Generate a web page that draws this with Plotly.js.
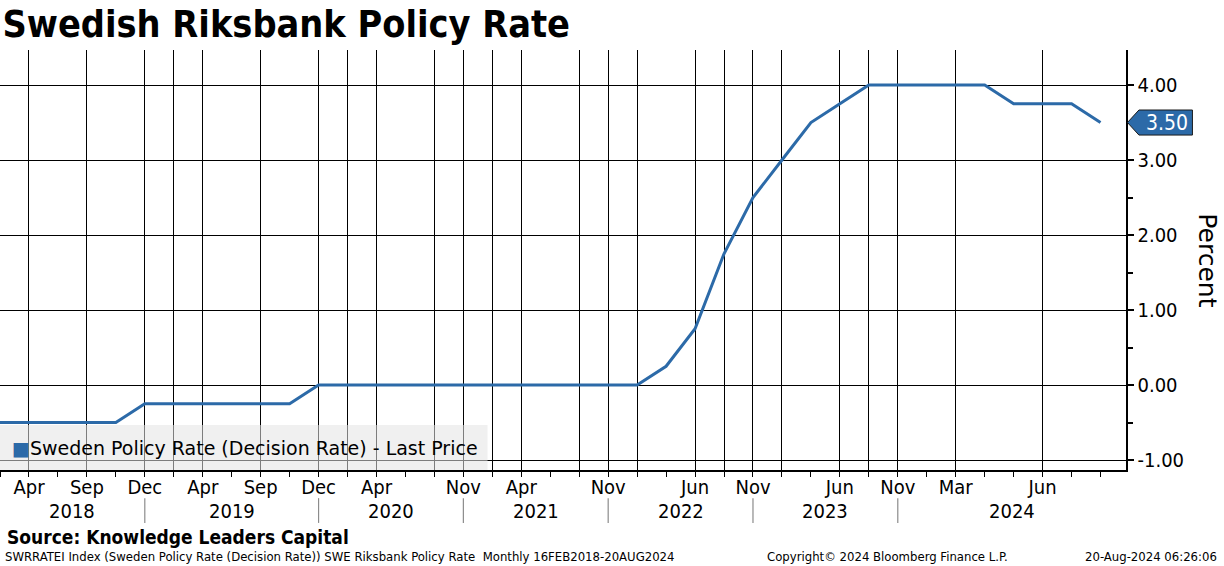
<!DOCTYPE html>
<html>
<head>
<meta charset="utf-8">
<script src="https://cdn.plot.ly/plotly-3.0.1.min.js"></script>
<style>html,body{margin:0;padding:0;background:#fff;}#chart{width:1224px;height:566px;}</style>
</head>
<body>
<div id="chart"></div>
<script>
// Decision points (Bloomberg monthly sampling of SWRRATEI)
const months = ['Feb','Apr','Jul','Sep','Oct','Dec',
                'Feb','Apr','Jul','Sep','Oct','Dec',
                'Feb','Apr','Jul','Sep','Nov',
                'Feb','Apr','Jul','Sep','Nov',
                'Feb','Apr','Jun','Sep','Nov',
                'Feb','Apr','Jun','Sep','Nov',
                'Feb','Mar','Apr','May','Jun','Jul','Aug'];
const years  = [2018,2018,2018,2018,2018,2018,
                2019,2019,2019,2019,2019,2019,
                2020,2020,2020,2020,2020,
                2021,2021,2021,2021,2021,
                2022,2022,2022,2022,2022,
                2023,2023,2023,2023,2023,
                2024,2024,2024,2024,2024,2024,2024];
const rates  = [-0.5,-0.5,-0.5,-0.5,-0.5,-0.25,
                -0.25,-0.25,-0.25,-0.25,-0.25,0,
                0,0,0,0,0,
                0,0,0,0,0,
                0,0.25,0.75,1.75,2.5,
                3.0,3.5,3.75,4.0,4.0,
                4.0,4.0,4.0,3.75,3.75,3.75,3.5];
const labelIdx = [1,3,5,7,9,11,13,16,18,21,24,26,29,31,33,36];
const gridIdx  = [0,1,3,5,6,7,9,11,12,13,15,16,17,18,20,21,22,24,25,26,27,29,30,31,33,36];
const yTicks   = [-1,0,1,2,3,4];
const yTickText= ['-1.00','0.00','1.00','2.00','3.00','4.00'];
const seriesName = 'Sweden Policy Rate (Decision Rate) - Last Price';

const FONT = '"DejaVu Sans Condensed", "DejaVu Sans", sans-serif';
const FONTW = '"DejaVu Sans", sans-serif';
const BLUE = '#2c6aa8';
const XMAX = 38.88, YMIN = -1.133, YMAX = 4.467;

const xIdx = months.map((_, i) => i);
const tickText = gridIdx.map(i => labelIdx.includes(i) ? months[i] : '');

// year separators and year label centres
const yearList = [...new Set(years)];
const yearLast = yearList.map(y => years.lastIndexOf(y));
const shapes = [];
const annotations = [];
yearList.forEach((y, k) => {
  const left = k === 0 ? 0 : yearLast[k-1];
  const right = k === yearList.length - 1 ? XMAX : yearLast[k];
  annotations.push({x: (left + right) / 2, xref: 'x', y: -0.098, yref: 'paper',
    text: String(y), showarrow: false, xanchor: 'center', yanchor: 'middle',
    font: {family: FONT, size: 20, color: '#000'}});
  if (k < yearList.length - 1) {
    shapes.push({type: 'line', xref: 'x', yref: 'paper', x0: yearLast[k], x1: yearLast[k],
      y0: -0.067, y1: -0.126, line: {color: '#8c8c8c', width: 1.2}});
  }
});

// legend box
shapes.push({type: 'rect', xref: 'paper', yref: 'paper', x0: 0, x1: 0.433, y0: 0, y1: 0.107,
  fillcolor: 'rgba(228,228,228,0.55)', line: {width: 0}, layer: 'above'});
annotations.push({x: 0.009, xref: 'paper', y: 0.052, yref: 'paper', xanchor: 'left', yanchor: 'middle',
  showarrow: false, text: '<span style="color:' + BLUE + '">■</span>' + seriesName,
  font: {family: FONTW, size: 19, color: '#000'}});

// last value tag
const last = rates[rates.length - 1];
const h = 0.167;
shapes.push({type: 'path', xref: 'paper', yref: 'y',
  path: `M 1.0013 ${last} L 1.0115 ${last + h} L 1.059 ${last + h} L 1.059 ${last - h} L 1.0115 ${last - h} Z`,
  fillcolor: BLUE, line: {color: '#1a1a1a', width: 1}});
annotations.push({x: 1.036, xref: 'paper', y: last, yref: 'y', xanchor: 'center', yanchor: 'middle',
  showarrow: false, text: last.toFixed(2), font: {family: FONT, size: 21, color: '#fff'}});

// y axis title
annotations.push({x: 1.0725, xref: 'paper', y: 0.5, yref: 'paper', xanchor: 'center', yanchor: 'middle',
  showarrow: false, text: 'Percent', textangle: 90, font: {family: FONTW, size: 25, color: '#000'}});

// source and footer
annotations.push({x: 0.004, xref: 'paper', y: -0.16, yref: 'paper', xanchor: 'left', yanchor: 'middle',
  showarrow: false, text: '<b>Source: Knowledge Leaders Capital</b>', font: {family: FONT, size: 19, color: '#000'}});
annotations.push({x: 0.0025, xref: 'paper', y: -0.207, yref: 'paper', xanchor: 'left', yanchor: 'middle',
  showarrow: false, text: 'SWRRATEI Index (Sweden Policy Rate (Decision Rate)) SWE Riksbank Policy Rate  Monthly 16FEB2018-20AUG2024',
  font: {family: FONT, size: 13, color: '#000'}});
annotations.push({x: 0.679, xref: 'paper', y: -0.207, yref: 'paper', xanchor: 'left', yanchor: 'middle',
  showarrow: false, text: 'Copyright© 2024 Bloomberg Finance L.P.', font: {family: FONT, size: 13, color: '#000'}});
annotations.push({x: 1.083, xref: 'paper', y: -0.207, yref: 'paper', xanchor: 'right', yanchor: 'middle',
  showarrow: false, text: '20-Aug-2024 06:26:06', font: {family: FONT, size: 13, color: '#000'}});

const trace = {x: xIdx, y: rates, type: 'scatter', mode: 'lines', name: seriesName,
  line: {color: BLUE, width: 3}, hoverinfo: 'skip'};

const layout = {
  width: 1224, height: 566,
  margin: {l: 0, r: 97.5, t: 50, b: 96},
  paper_bgcolor: '#fff', plot_bgcolor: '#fff',
  showlegend: false,
  title: {text: '<b>Swedish Riksbank Policy Rate</b>', x: 0.002, xanchor: 'left', y: 0.958, yanchor: 'middle',
    font: {family: FONT, size: 37.5, color: '#000'}},
  xaxis: {range: [0, XMAX], tickmode: 'array', tickvals: gridIdx, ticktext: tickText,
    showgrid: true, gridcolor: '#000', gridwidth: 1, zeroline: false,
    showline: true, linecolor: '#000', linewidth: 1.5,
    ticks: 'outside', ticklen: 5, tickcolor: '#000', tickwidth: 1,
    ticklabelstandoff: -7,
    minor: {tickmode: 'linear', tick0: 0, dtick: 1, ticks: 'outside', ticklen: 5, tickcolor: '#000', showgrid: false},
    tickfont: {family: FONT, size: 20, color: '#000'}, fixedrange: true},
  yaxis: {range: [YMIN, YMAX], side: 'right', tickmode: 'array', tickvals: yTicks, ticktext: yTickText,
    showgrid: true, gridcolor: '#000', gridwidth: 1, zeroline: false,
    showline: true, linecolor: '#000', linewidth: 1.5,
    ticks: 'outside', ticklen: 6, tickwidth: 2, tickcolor: '#000',
    minor: {tickmode: 'linear', tick0: 0.5, dtick: 1, ticks: 'outside', ticklen: 5, tickcolor: '#000', showgrid: false},
    tickfont: {family: FONT, size: 20, color: '#000'}, fixedrange: true},
  shapes: shapes,
  annotations: annotations
};

Plotly.newPlot('chart', [trace], layout, {displayModeBar: false, staticPlot: true});
</script>
</body>
</html>
